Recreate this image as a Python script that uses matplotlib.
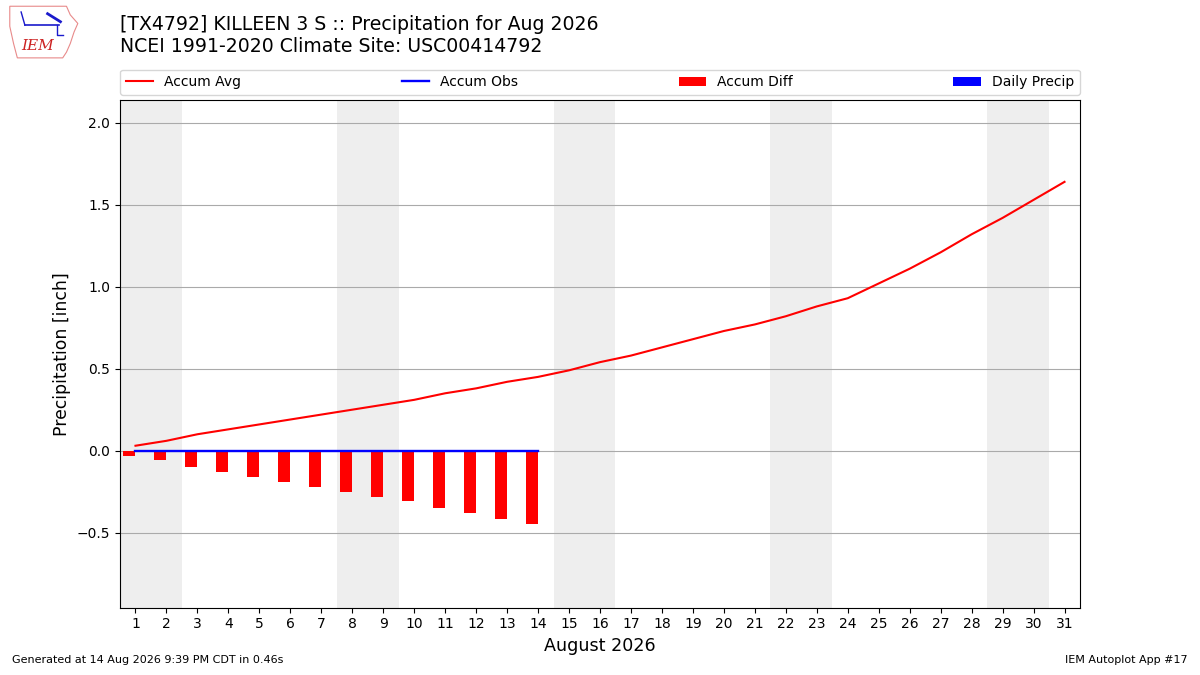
import numpy as np
from matplotlib import pyplot as plt
from matplotlib.patches import Polygon

# Daily data for Aug 2026
days = np.arange(1, 32)
accum_avg = [0.03, 0.06, 0.10, 0.13, 0.16, 0.19, 0.22, 0.25, 0.28, 0.31,
             0.35, 0.38, 0.42, 0.45, 0.49, 0.54, 0.58, 0.63, 0.68, 0.73,
             0.77, 0.82, 0.88, 0.93, 1.02, 1.11, 1.21, 1.32, 1.42, 1.53, 1.64]
obs_days = np.arange(1, 15)
accum_obs = [0.0] * 14
daily_precip = [0.0] * 14
accum_diff = [o - a for o, a in zip(accum_obs, accum_avg[:14])]
weekend_starts = [1, 8, 15, 22, 29]

title = ("[TX4792] KILLEEN 3 S :: Precipitation for Aug 2026\n"
         "NCEI 1991-2020 Climate Site: USC00414792")

fig = plt.figure(figsize=(12, 6.75), dpi=100)
ax = fig.add_axes([0.1, 0.1, 0.8, 0.752])

# Weekend shading
for d in weekend_starts:
    ax.axvspan(d - 0.5, d + 1.5, color="#eeeeee", zorder=0, lw=0)

ax.plot(days, accum_avg, color="r", lw=1.5, label="Accum Avg", zorder=3)
ax.plot(obs_days, accum_obs, color="b", lw=1.7, label="Accum Obs", zorder=4)
ax.bar(obs_days, accum_diff, width=-0.4, align="edge", color="r",
       label="Accum Diff", zorder=2)
ax.bar(obs_days, daily_precip, width=0.4, align="edge", color="b",
       label="Daily Precip", zorder=2)

ax.set_xlim(0.5, 31.5)
ax.set_ylim(-0.957, 2.14)
ax.set_xticks(days)
ax.set_yticks([-0.5, 0, 0.5, 1.0, 1.5, 2.0])
ax.grid(axis="y", color="#aaaaaa", lw=0.8)
ax.set_axisbelow(True)
ax.set_ylabel("Precipitation [inch]", fontsize=12.4)
ax.set_xlabel("August 2026", fontsize=12.6)

ax.legend(loc="lower left", bbox_to_anchor=(0, 1.01, 1, 0.05), ncol=4,
          mode="expand", borderaxespad=0, fontsize=10)

fig.text(0.1, 0.947, title, fontsize=13.6, va="center", ha="left")
fig.text(0.01, 0.015, "Generated at 14 Aug 2026 9:39 PM CDT in 0.46s",
         fontsize=8, ha="left", va="bottom")
fig.text(0.99, 0.015, "IEM Autoplot App #17", fontsize=8,
         ha="right", va="bottom")

# Rough stand-in for the IEM logo
lax = fig.add_axes([0.005, 0.91, 0.063, 0.085])
lax.set_xlim(0, 1)
lax.set_ylim(0, 1)
lax.axis("off")
outline = [(0.05, 0.95), (0.8, 0.95), (0.85, 0.8), (0.95, 0.65), (0.9, 0.5),
           (0.85, 0.3), (0.8, 0.15), (0.75, 0.05), (0.15, 0.05), (0.1, 0.3),
           (0.05, 0.6)]
lax.add_patch(Polygon(outline, closed=True, fill=False, ec="#e88a8a", lw=0.8))
lax.plot([0.25, 0.7], [0.62, 0.62], color="#1a1acc", lw=1.2)
lax.plot([0.25, 0.2], [0.62, 0.85], color="#1a1acc", lw=1.0)
lax.plot([0.55, 0.72], [0.82, 0.68], color="#1a1acc", lw=2.0)
lax.plot([0.68, 0.68, 0.75], [0.62, 0.45, 0.45], color="#1a1acc", lw=1.0)
lax.text(0.42, 0.26, "IEM", color="#cc2222", fontsize=11, family="serif",
         style="italic", ha="center", va="center")

fig.savefig("out.png", dpi=100)
